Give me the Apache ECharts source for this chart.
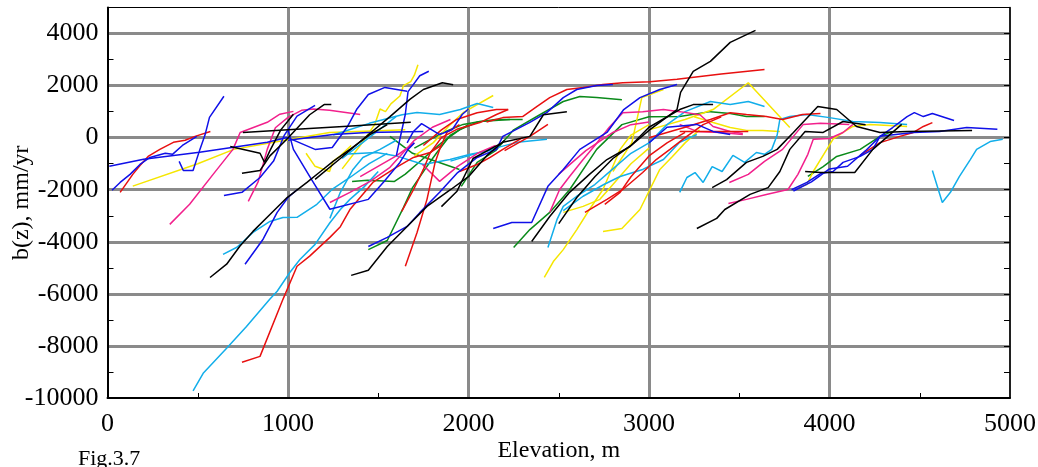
<!DOCTYPE html>
<html>
<head>
<meta charset="utf-8">
<script src="https://cdn.jsdelivr.net/npm/echarts@6/dist/echarts.min.js"></script>
<style>
  html, body { margin: 0; padding: 0; background: #fff; }
  #chart { width: 1038px; height: 467px; }
</style>
</head>
<body>
<div id="chart"></div>
<script>
// each line is a list of [elevation m, b(z) mm/yr]
const blueLines = [
    [[25,-2020],[70,-1720],[125,-1410],[180,-1030],[235,-760],[320,-600],[360,-640],[415,-300],[495,50]],
    [[397,-910],[420,-1260],[474,-1260],[512,-450],[540,100],[565,780],[645,1590]],
    [[10,-1100],[200,-830],[510,-560],[885,-180],[995,10],[1150,-450],[1245,-380],[1330,430],[1380,1080],[1445,1660],[1537,1930],[1660,1780]],
    [[1000,-100],[1250,120],[1440,200],[1750,240]],
    [[1600,-700],[1620,-50],[1650,900],[1665,1770],[1690,2000],[1730,2380],[1780,2550]],
    [[645,-2220],[745,-2100],[845,-1530],[920,-900],[980,100],[1050,830],[1150,1240]],
    [[762,-4860],[862,-3900],[940,-2870],[1000,-2300],[1050,-2000]],
    [[1000,300],[1030,-450],[1130,-1600],[1232,-2750],[1445,-2370],[1530,-1700],[1620,-950],[1665,-450],[1700,-200]],
    [[1445,-4180],[1550,-3830],[1660,-3410],[1730,-2880],[1840,-2100],[1940,-1340],[2048,-760],[2155,-450],[2190,50],[2340,590],[2435,970],[2525,1540],[2600,1850],[2710,2000],[2800,2040]],
    [[2137,-3490],[2240,-3260],[2350,-3260],[2440,-1870],[2525,-1220],[2617,-450],[2767,200],[2860,1080],[2950,1540],[3060,1850],[3155,2040]],
    [[1660,-200],[1695,240],[1740,540],[1840,120],[1910,310],[1965,890],[2000,1100]],
    [[3790,-2000],[3875,-1720],[3950,-1380],[4020,-1300],[4075,-950],[4170,-720],[4240,-450],[4280,50],[4350,390],[4430,810],[4470,960],[4520,810],[4570,930],[4690,660]],
    [[3800,-2050],[3900,-1700],[4000,-1200],[4100,-1100],[4200,-500],[4280,50],[4465,200],[4610,240],[4760,390],[4930,320]],
    [[3000,-200],[3100,400],[3265,510],[3355,240],[3450,120]]
];
const redLines = [
    [[70,-2100],[140,-1410],[180,-1070],[225,-720],[290,-450],[365,-180],[430,-100],[485,50],[570,240]],
    [[745,-8630],[845,-8400],[972,-6210],[1050,-4940],[1120,-4550],[1232,-3830],[1290,-3420],[1343,-2760],[1470,-1720],[1600,-1140],[1695,-760],[1787,-570],[1850,-300]],
    [[1650,-4940],[1715,-3640],[1770,-2370],[1815,-950],[1840,-450],[1880,200],[1950,500]],
    [[1630,-2830],[1695,-2000],[1750,-1220],[1787,-600],[1850,0],[1935,320],[2063,580],[2155,890],[2220,1080]],
    [[2100,600],[2190,770],[2300,810],[2380,1200],[2450,1540],[2545,1850],[2635,1930],[2745,2040],[2855,2110],[3005,2150],[3155,2240],[3400,2450],[3640,2620]],
    [[2200,-500],[2340,50],[2440,510]],
    [[2645,-2870],[2767,-2370],[2855,-1990],[2965,-1340],[3040,-840],[3116,-450],[3200,0],[3300,500],[3400,800]],
    [[2755,-2560],[2840,-2100],[2900,-1500],[3000,-700],[3100,-200],[3200,200]],
    [[3000,0],[3200,400],[3340,700],[3450,960],[3540,890],[3650,810],[3740,700],[3850,890],[3950,930]],
    [[3170,240],[3550,240]],
    [[4170,-680],[4280,-190],[4390,50],[4465,200],[4520,430],[4570,580]],
    [[1750,-300],[1850,300],[1935,700],[2048,960],[2155,1080],[2220,1080]],
    [[1950,-1300],[2048,-1030],[2120,-760],[2190,-450],[2300,0]]
];
const pinkLines = [
    [[345,-3330],[455,-2560],[585,-1410],[695,-450],[735,200],[885,590],[955,900],[1030,1010]],
    [[780,-2450],[835,-1690],[885,-450],[930,380],[1000,780],[1075,1050],[1140,1100],[1230,1050],[1400,890]],
    [[1232,-2490],[1343,-2100],[1455,-1680],[1565,-1140],[1630,-640],[1700,-100],[1800,400],[1900,700]],
    [[1745,-1030],[1840,-1680],[1940,-1100],[2050,-600],[2150,-300]],
    [[2450,-2870],[2505,-1990],[2560,-1490],[2635,-840],[2700,-300],[2780,400],[2855,960],[2965,1000],[3080,1080],[3170,1000],[3282,880],[3355,430],[3450,240],[3520,160]],
    [[3170,510],[3265,240],[3395,200],[3520,120]],
    [[3440,-2530],[3540,-2370],[3650,-2180],[3770,-1990],[3825,-1410],[3880,-640],[3910,-60],[4000,-30],[4075,200],[4130,510]],
    [[3445,-1720],[3550,-1410],[3640,-910],[3740,-450],[3855,510],[3950,550],[4110,510]],
    [[1400,-1500],[1600,-700],[1700,-200]],
    [[2500,-1400],[2650,-500],[2800,200],[2900,500],[3000,600]]
];
const yellowLines = [
    [[140,-1860],[500,-1000],[700,-450],[1000,-80],[1230,200],[1650,300]],
    [[1300,-1200],[1400,-300],[1480,500],[1510,1100],[1540,1000],[1570,1300],[1620,1600],[1640,2000],[1680,2150],[1700,2400],[1720,2800]],
    [[1700,-700],[1805,-190],[1890,440],[1970,960],[2137,1620]],
    [[2420,-5370],[2470,-4760],[2525,-4300],[2600,-3530],[2670,-2760],[2745,-1990],[2800,-1100],[2840,-450],[2900,100],[3000,500]],
    [[2800,-1300],[2905,-190],[2960,1540],[3080,1850]],
    [[2745,-3600],[2850,-3490],[2950,-2760],[3060,-1220],[3130,-720],[3200,-200],[3280,300]],
    [[2525,-2870],[2635,-2640],[2728,-2370],[2800,-1800],[2900,-1000],[3000,-400]],
    [[3000,300],[3200,700],[3355,1080],[3550,2110],[3780,390]],
    [[3250,800],[3355,580],[3450,390],[3540,280],[3630,280],[3725,240]],
    [[3825,-1920],[3875,-1800],[3910,-1300],[3985,-450],[4020,-60],[4075,200],[4130,430],[4225,510],[4430,430]],
    [[1100,-600],[1150,-1100],[1230,-1300],[1250,-900],[1290,-700],[1350,-300]]
];
const cyanLines = [
    [[474,-9730],[530,-9050],[660,-8090],[770,-7250],[900,-6200],[940,-5900],[1010,-5180],[1066,-4680],[1150,-4100],[1232,-3270],[1290,-2760],[1343,-2370],[1420,-1900],[1500,-1300]],
    [[640,-4480],[717,-4210],[806,-3640],[900,-3220],[972,-3070],[1050,-3060],[1160,-2560],[1244,-1990],[1343,-1530],[1450,-1000],[1550,-600]],
    [[1232,-3100],[1290,-2100],[1360,-1220],[1415,-760],[1510,-450],[1600,-100]],
    [[1305,-640],[1490,-570],[1600,-700],[1750,-1030],[1897,-840],[2010,-640],[2155,-450]],
    [[1250,100],[1450,550],[1632,880],[1715,970],[1840,890],[1955,1080],[2048,1310],[2137,1160]],
    [[1900,-900],[2120,-450],[2270,-180],[2435,-60]],
    [[2440,-4220],[2490,-3150],[2525,-2640],[2600,-2250],[2700,-1800],[2800,-1200],[2900,-600],[3000,-200],[3100,500],[3200,1000],[3340,1390],[3450,1270],[3550,1390],[3640,1200]],
    [[2525,-2800],[2635,-2250],[2750,-1800],[2840,-1490],[2965,-1220],[3080,-840],[3170,-180],[3265,120]],
    [[3170,-2100],[3210,-1530],[3255,-1340],[3300,-1720],[3350,-1110],[3405,-1300],[3465,-680],[3530,-950],[3595,-570],[3640,-640],[3680,-450],[3710,100],[3725,700],[3780,810],[3875,890],[4000,770],[4130,620],[4280,580],[4430,510]],
    [[4570,-1260],[4625,-2490],[4670,-2100],[4720,-1490],[4780,-840],[4815,-450],[4890,-150],[4960,-60]],
    [[1300,-800],[1415,-180],[1600,820]]
];
const greenLines = [
    [[1355,-1680],[1440,-1640],[1590,-1680],[1650,-1400],[1750,-800],[1850,-200],[1950,300],[2050,600],[2150,700],[2300,700]],
    [[1445,-4300],[1550,-3950],[1640,-2680],[1690,-1920],[1770,-1100],[1825,-570],[1900,100],[2000,500]],
    [[1565,50],[1690,-600],[1950,-1220]],
    [[1960,-1870],[2048,-950],[2150,-500],[2250,300],[2400,900],[2525,1390],[2617,1580],[2710,1540],[2850,1460]],
    [[2250,-4220],[2340,-3530],[2450,-2870],[2560,-2000],[2710,-450],[2850,500],[3000,800],[3170,810],[3340,1000],[3450,930],[3540,810],[3640,810]],
    [[3880,-1490],[3965,-1110],[4040,-720],[4170,-450],[4280,50],[4350,240]],
    [[1700,-400],[1860,200],[1970,510],[2063,620],[2230,700]]
];
const blackLines = [
    [[680,-340],[845,-600],[870,-950],[900,-500],[960,300],[1030,900]],
    [[745,-1370],[845,-1260],[900,-700],[1000,-10],[1120,880],[1200,1270],[1240,1270]],
    [[750,200],[1000,300],[1330,440],[1680,590]],
    [[568,-5370],[660,-4860],[734,-4160],[806,-3600],[900,-2950],[995,-2300],[1105,-1720],[1180,-1300],[1250,-910],[1343,-450],[1450,100],[1550,500]],
    [[1150,-1600],[1290,-800],[1415,-60],[1565,810],[1675,1470],[1750,1850],[1855,2110],[1915,2030]],
    [[1350,-5290],[1445,-5090],[1550,-4180],[1660,-3410],[1770,-2640],[1900,-2000],[2000,-1500],[2100,-700],[2200,-100]],
    [[1850,-2650],[1935,-2070],[2025,-800],[2190,-180],[2340,50],[2415,880],[2545,1000]],
    [[2350,-3990],[2450,-3030],[2560,-2100],[2670,-1410],[2767,-840],[2895,-340],[3005,310],[3155,1080],[3175,1740],[3245,2550],[3340,2930],[3450,3660],[3590,4120]],
    [[2500,-3300],[2600,-2300],[2700,-1500],[2800,-800],[2900,-300],[3000,400],[3170,1080],[3245,1270],[3355,1270]],
    [[3350,-1920],[3430,-1610],[3540,-950],[3630,-720],[3710,-450],[3800,200],[3935,1200],[4040,1080],[4150,430],[4280,200],[4430,240],[4790,280]],
    [[3265,-3490],[3375,-3100],[3420,-2760],[3560,-2180],[3660,-1920],[3725,-1300],[3780,-450],[3865,240],[3965,200],[4075,620],[4200,500]],
    [[3865,-1300],[3950,-1340],[4140,-1340],[4240,-450],[4400,510]]
];

const groups = [
    { lines: greenLines, color: '#0a8a1a' },
    { lines: yellowLines, color: '#f5e600' },
    { lines: cyanLines, color: '#12aeea' },
    { lines: pinkLines, color: '#f2208c' },
    { lines: redLines, color: '#e81010' },
    { lines: blueLines, color: '#1010e8' },
    { lines: blackLines, color: '#000000' }
];

const series = [];
groups.forEach(function (g) {
    g.lines.forEach(function (line) {
        series.push({
            type: 'line',
            data: line,
            symbol: 'none',
            lineStyle: { color: g.color, width: 1.5 },
            silent: true
        });
    });
});

const serif = '"Liberation Serif", "Times New Roman", serif';
const plain = function (v) { return String(v); };
const chart = echarts.init(document.getElementById('chart'));
chart.setOption({
    animation: false,
    grid: {
        left: 107.5, right: 28, top: 7.5, bottom: 69,
        containLabel: false, outerBoundsMode: 'none',
        show: true, borderColor: '#000', borderWidth: 1
    },
    xAxis: [{
        type: 'value', min: 0, max: 5000, interval: 1000,
        name: 'Elevation, m', nameLocation: 'middle', nameGap: 41, nameMoveOverlap: false,
        nameTextStyle: { fontFamily: serif, fontSize: 24, color: '#000' },
        axisLine: { onZero: false, lineStyle: { color: '#000', width: 2 } },
        axisTick: { show: false, inside: true },
        minorTick: { show: true, splitNumber: 2, length: 5, lineStyle: { color: '#000', width: 1 } },
        axisLabel: { fontFamily: serif, fontSize: 26, color: '#000', margin: 13, formatter: plain },
        splitLine: { show: true, showMinLine: false, showMaxLine: false, lineStyle: { color: '#8a8a8a', width: 3 } }
    }],
    yAxis: [{
        type: 'value', min: -10000, max: 5000, interval: 2000,
        name: 'b(z), mm/yr', nameLocation: 'middle', nameGap: 86, nameMoveOverlap: false,
        nameTextStyle: { fontFamily: serif, fontSize: 24, color: '#000', verticalAlign: 'middle' },
        axisLine: { onZero: false, lineStyle: { color: '#000', width: 2 } },
        axisTick: { show: false, inside: true },
        minorTick: { show: true, splitNumber: 2, length: 6, lineStyle: { color: '#000', width: 1 } },
        axisLabel: { fontFamily: serif, fontSize: 26, color: '#000', margin: 9, showMaxLabel: false, formatter: plain },
        splitLine: { show: true, showMinLine: false, showMaxLine: false, lineStyle: { color: '#8a8a8a', width: 3 } }
    }, {
        type: 'value', min: -10000, max: 5000, interval: 1000, position: 'right',
        axisLine: { show: true, onZero: false, lineStyle: { color: '#000', width: 1.5 } },
        axisTick: { show: true, inside: true, length: 6, lineStyle: { color: '#000' } },
        axisLabel: { show: false },
        splitLine: { show: false }
    }],
    graphic: [{
        type: 'text', left: 78, top: 448,
        style: { text: 'Fig.3.7', fontFamily: serif, fontSize: 22, fill: '#000' }
    }],
    series: series
});
</script>
</body>
</html>
